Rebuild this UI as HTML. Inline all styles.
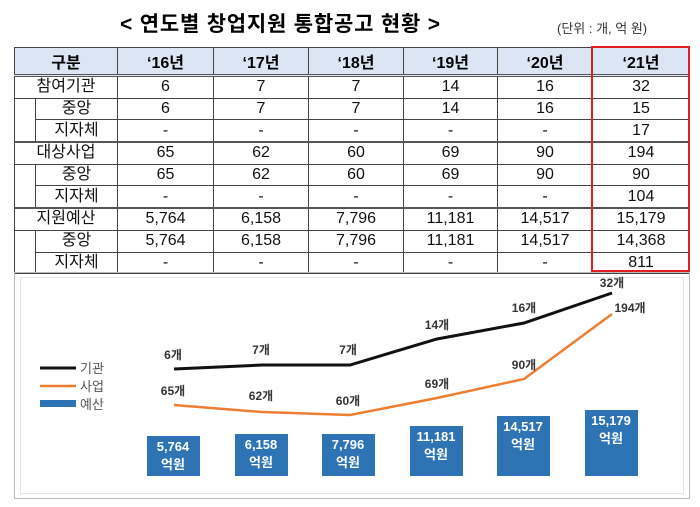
<!DOCTYPE html>
<html><head><meta charset="utf-8"><style>
body{margin:0;width:700px;height:507px;background:#fff;font-family:"Liberation Sans","Noto Sans CJK KR",sans-serif;position:relative;overflow:hidden}
.t{position:absolute;white-space:nowrap}
table{position:absolute;left:14px;top:47px;border-collapse:collapse;table-layout:fixed}
td{border:1px solid #444;height:20.7px;padding:0;text-align:center;font-size:16px;line-height:20px;color:#111}
th{height:23px;background:#dbe5f3;border:1px solid #444;border-bottom:3px double #555;font-size:16px;font-weight:bold}
tr.g td{border-top:2px solid #555}
td.i{border-left:1px solid #444;border-top:none;border-bottom:none;width:20px}
</style></head><body>
<div class="t" style="left:120px;top:8px;font-size:21px;font-weight:bold;letter-spacing:0.8px">&lt; 연도별 창업지원 통합공고 현황 &gt;</div>
<div class="t" style="left:557px;top:18px;font-size:13px;color:#333">(단위 : 개, 억 원)</div>
<table>
<colgroup><col style="width:21px"><col style="width:82px"><col style="width:96px"><col style="width:95px"><col style="width:95px"><col style="width:94px"><col style="width:95px"><col style="width:97px"></colgroup>
<tr><th colspan="2">구분</th><th>‘16년</th><th>‘17년</th><th>‘18년</th><th>‘19년</th><th>‘20년</th><th>‘21년</th></tr>
<tr><td colspan="2">참여기관</td><td>6</td><td>7</td><td>7</td><td>14</td><td>16</td><td>32</td></tr>
<tr><td class="i"></td><td>중앙</td><td>6</td><td>7</td><td>7</td><td>14</td><td>16</td><td>15</td></tr>
<tr><td class="i"></td><td>지자체</td><td>-</td><td>-</td><td>-</td><td>-</td><td>-</td><td>17</td></tr>
<tr class="g"><td colspan="2">대상사업</td><td>65</td><td>62</td><td>60</td><td>69</td><td>90</td><td>194</td></tr>
<tr><td class="i"></td><td>중앙</td><td>65</td><td>62</td><td>60</td><td>69</td><td>90</td><td>90</td></tr>
<tr><td class="i"></td><td>지자체</td><td>-</td><td>-</td><td>-</td><td>-</td><td>-</td><td>104</td></tr>
<tr class="g"><td colspan="2">지원예산</td><td>5,764</td><td>6,158</td><td>7,796</td><td>11,181</td><td>14,517</td><td>15,179</td></tr>
<tr><td class="i"></td><td>중앙</td><td>5,764</td><td>6,158</td><td>7,796</td><td>11,181</td><td>14,517</td><td>14,368</td></tr>
<tr><td class="i" style="border-bottom:1px solid #444"></td><td>지자체</td><td>-</td><td>-</td><td>-</td><td>-</td><td>-</td><td>811</td></tr>
</table>
<div style="position:absolute;left:591px;top:46px;width:95px;height:222px;border:2px solid #e02020"></div>
<svg style="position:absolute;left:0;top:0" width="700" height="507">
<rect x="14.5" y="272.5" width="675" height="226" fill="none" stroke="#bbb"/>
<rect x="20.5" y="277.5" width="663" height="216" fill="none" stroke="#e4e4e4"/>
<g fill="#2e74b5">
<rect x="147" y="436" width="53" height="40"/><rect x="235" y="434" width="53" height="42"/><rect x="322" y="434" width="53" height="42"/>
<rect x="410" y="426" width="53" height="50"/><rect x="497" y="416" width="53" height="60"/><rect x="585" y="410" width="53" height="66"/>
</g>
<g fill="#fff" font-size="13" font-weight="bold" text-anchor="middle" font-family="Liberation Sans,Noto Sans CJK KR,sans-serif">
<text x="173" y="451">5,764</text><text x="173" y="469">억원</text>
<text x="261" y="449">6,158</text><text x="261" y="467">억원</text>
<text x="348" y="449">7,796</text><text x="348" y="467">억원</text>
<text x="436" y="441">11,181</text><text x="436" y="459">억원</text>
<text x="523" y="431">14,517</text><text x="523" y="449">억원</text>
<text x="611" y="425">15,179</text><text x="611" y="443">억원</text>
</g>
<polyline points="174,369 262,365 350,365 437,339 524,323 612,293" fill="none" stroke="#111" stroke-width="3"/>
<polyline points="174,405 262,412 350,415 437,398 524,379 612,314" fill="none" stroke="#ed7d31" stroke-width="2.5"/>
<g font-size="12" font-weight="bold" fill="#333" text-anchor="middle" font-family="Liberation Sans,Noto Sans CJK KR,sans-serif">
<text x="173" y="359">6개</text><text x="261" y="354">7개</text><text x="348" y="354">7개</text><text x="437" y="329">14개</text><text x="524" y="312">16개</text><text x="612" y="287">32개</text>
<text x="173" y="395">65개</text><text x="261" y="400">62개</text><text x="348" y="405">60개</text><text x="437" y="388">69개</text><text x="524" y="369">90개</text><text x="630" y="312">194개</text>
</g>
<line x1="40" y1="368" x2="76" y2="368" stroke="#111" stroke-width="3"/>
<line x1="40" y1="386" x2="76" y2="386" stroke="#ed7d31" stroke-width="2.5"/>
<rect x="40" y="400" width="36" height="7" fill="#2e74b5"/>
<g font-size="13" fill="#555" font-family="Liberation Sans,Noto Sans CJK KR,sans-serif">
<text x="80" y="373">기관</text><text x="80" y="391">사업</text><text x="80" y="409">예산</text>
</g>
</svg>
</body></html>
